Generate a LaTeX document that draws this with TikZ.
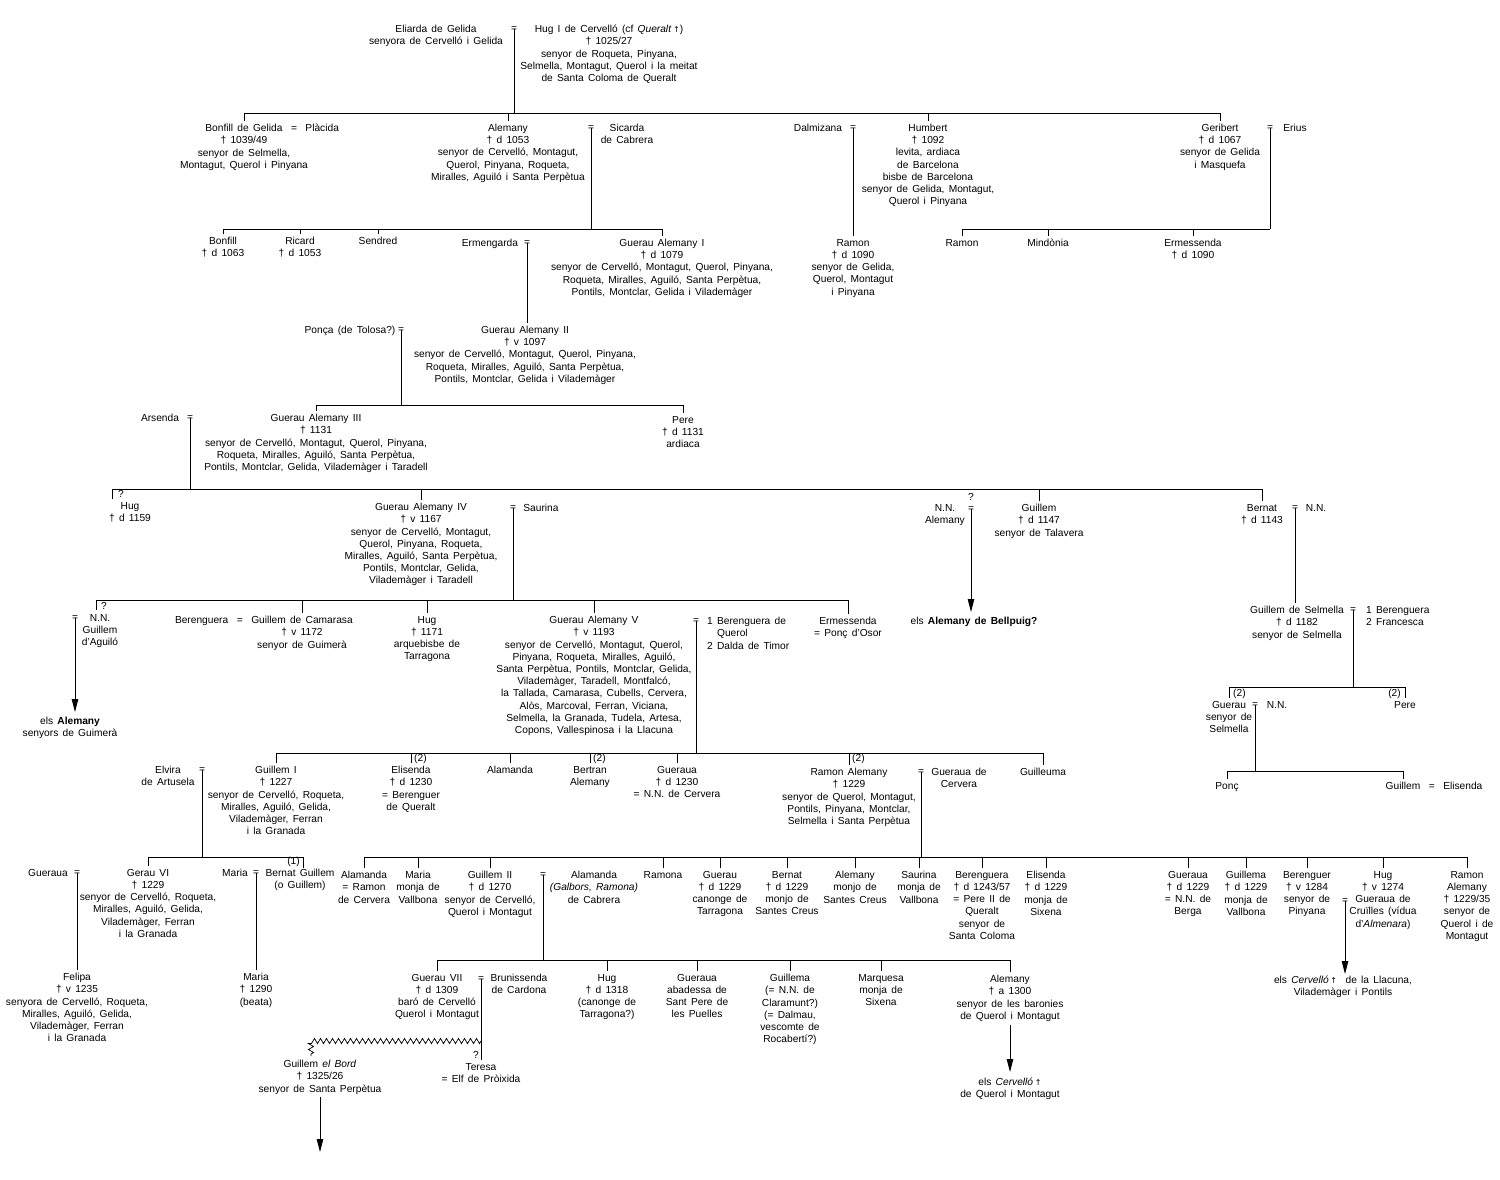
\documentclass[tikz,border=0pt]{standalone}
\usepackage{fontspec}
\setmainfont{Liberation Sans}[WordSpace=1.5]
\newfontfamily\symf{DejaVu Sans}
\usetikzlibrary{arrows.meta,decorations.pathmorphing}
\newcommand\fs{\fontsize{10.2}{12.2}\selectfont}
\newcommand\upar{{\symf\fontsize{8}{8}\selectfont ↑}}
\begin{document}
\begin{tikzpicture}[x=1pt,y=-1pt,
 per/.style={anchor=north,align=center,inner sep=0pt,yshift=4pt,font=\fs},
 perl/.style={anchor=north west,align=left,inner sep=0pt,yshift=4pt,font=\fs},
 eqn/.style={inner sep=0pt,font=\fs},
 qm/.style={inner sep=0pt,font=\fs},
 ln/.style={line width=0.9pt},
 tk/.style={line width=0.9pt,shorten >=3pt},
 arr/.style={line width=0.9pt,-{Triangle[length=13pt,width=6.5pt]}},
 zig/.style={line width=0.7pt,decorate,decoration={zigzag,segment length=6pt,amplitude=2.6pt}}]
\fill[white] (0,0) rectangle (1500,1179);
\useasboundingbox (0,0) rectangle (1500,1179);
% ---------- generation 1
\node[per] (eliarda) at (436,29) {Eliarda de Gelida\\senyora de Cervelló i Gelida};
\node[eqn] (m1) at (514,29) {=};
\node[per] (hug1) at (609,29) {Hug I de Cervelló (cf \textit{Queralt}\,\upar)\\† 1025/27\\senyor de Roqueta, Pinyana,\\Selmella, Montagut, Querol i la meitat\\de Santa Coloma de Queralt};
% ---------- generation 2
\coordinate (r1) at (0,113);
\node[per] (bonfillG) at (244,128) {Bonfill de Gelida\rlap{\ \ =\ \ Plàcida}\\† 1039/49\\senyor de Selmella,\\Montagut, Querol i Pinyana};
\node[per] (alemany) at (508,128) {Alemany\\† d 1053\\senyor de Cervelló, Montagut,\\Querol, Pinyana, Roqueta,\\Miralles, Aguiló i Santa Perpètua};
\node[eqn] (m2) at (591,128) {=};
\node[per] (sicarda) at (627,128) {Sicarda\\de Cabrera};
\node[per] (dalmizana) at (818,128) {Dalmizana};
\node[eqn] (m3) at (853,128) {=};
\node[per] (humbert) at (928,128) {Humbert\\† 1092\\levita, ardiaca\\de Barcelona\\bisbe de Barcelona\\senyor de Gelida, Montagut,\\Querol i Pinyana};
\node[per] (geribert) at (1220,128) {Geribert\\† d 1067\\senyor de Gelida\\i Masquefa};
\node[eqn] (m4) at (1270,128) {=};
\node[per] (erius) at (1295,128) {Erius};
\draw[ln] (bonfillG.north |- r1) -- (geribert.north |- r1);
\foreach \n in {bonfillG,alemany,humbert,geribert} \draw[tk] (\n.north |- r1) -- (\n.north);
\draw[ln] (m1.center) -- (m1.center |- r1);
% ---------- generation 3
\coordinate (r2) at (0,229);
\node[per] (bonfill) at (223,241) {Bonfill\\† d 1063};
\node[per] (ricard) at (300,241) {Ricard\\† d 1053};
\node[per] (sendred) at (378,241) {Sendred};
\node[per] (ermengarda) at (490,243) {Ermengarda};
\node[eqn] (m5) at (527,243) {=};
\node[per] (ga1) at (662,243) {Guerau Alemany I\\† d 1079\\senyor de Cervelló, Montagut, Querol, Pinyana,\\Roqueta, Miralles, Aguiló, Santa Perpètua,\\Pontils, Montclar, Gelida i Vilademàger};
\draw[ln] (bonfill.north |- r2) -- (ga1.north |- r2);
\foreach \n in {bonfill,ricard,sendred,ga1} \draw[tk] (\n.north |- r2) -- (\n.north);
\draw[ln] (m2.center) -- (m2.center |- r2);
\node[per] (ramon1) at (853,243) {Ramon\\† d 1090\\senyor de Gelida,\\Querol, Montagut\\i Pinyana};
\draw[tk] (m3.center) -- (m3.center |- ramon1.north);
\node[per] (ramon2) at (962,243) {Ramon};
\node[per] (mindonia) at (1048,243) {Mindònia};
\node[per] (ermessenda1) at (1193,243) {Ermessenda\\† d 1090};
\draw[ln] (ramon2.north |- r2) -- (m4.center |- r2);
\foreach \n in {ramon2,mindonia,ermessenda1} \draw[tk] (\n.north |- r2) -- (\n.north);
\draw[ln] (m4.center) -- (m4.center |- r2);
% ---------- generation 4
\node[per] (ponca) at (350,330) {Ponça (de Tolosa?)};
\node[eqn] (m6) at (401,330) {=};
\node[per] (ga2) at (525,330) {Guerau Alemany II\\† v 1097\\senyor de Cervelló, Montagut, Querol, Pinyana,\\Roqueta, Miralles, Aguiló, Santa Perpètua,\\Pontils, Montclar, Gelida i Vilademàger};
\draw[tk] (m5.center) -- (m5.center |- ga2.north);
% ---------- generation 5
\coordinate (r4) at (0,405);
\node[per] (arsenda) at (160,418) {Arsenda};
\node[eqn] (m7) at (190,418) {=};
\node[per] (ga3) at (316,418) {Guerau Alemany III\\† 1131\\senyor de Cervelló, Montagut, Querol, Pinyana,\\Roqueta, Miralles, Aguiló, Santa Perpètua,\\Pontils, Montclar, Gelida, Vilademàger i Taradell};
\node[per] (pere1) at (683,420) {Pere\\† d 1131\\ardiaca};
\draw[ln] (ga3.north |- r4) -- (pere1.north |- r4);
\foreach \n in {ga3,pere1} \draw[tk] (\n.north |- r4) -- (\n.north);
\draw[ln] (m6.center) -- (m6.center |- r4);
% ---------- generation 6
\coordinate (r5) at (0,489);
\coordinate (hugtick) at (112,499);
\node[qm] (q1) at (121,494) {?};
\node[per] (hug2) at (130,506) {Hug\\† d 1159};
\node[per] (ga4) at (421,507) {Guerau Alemany IV\\† v 1167\\senyor de Cervelló, Montagut,\\Querol, Pinyana, Roqueta,\\Miralles, Aguiló, Santa Perpètua,\\Pontils, Montclar, Gelida,\\Vilademàger i Taradell};
\node[eqn] (m8) at (513,508) {=};
\node[per] (saurina) at (541,508) {Saurina};
\node[per] (nnalemany) at (945,508) {N.N.\\Alemany};
\node[qm] (q2) at (971,497) {?};
\node[eqn] (m9) at (971,509) {=};
\node[per] (guillem1) at (1039,508) {Guillem\\† d 1147\\senyor de Talavera};
\node[per] (bernat1) at (1262,508) {Bernat\\† d 1143};
\node[eqn] (m10) at (1295,508) {=};
\node[per] (nn1) at (1316,508) {N.N.};
\draw[ln] (hugtick |- r5) -- (bernat1.north |- r5);
\draw[ln] (hugtick |- r5) -- (hugtick);
\foreach \n in {ga4,guillem1,bernat1} \draw[tk] (\n.north |- r5) -- (\n.north);
\draw[ln] (m7.center) -- (m7.center |- r5);
\coordinate (bellpuigtip) at (971,612);
\draw[arr] (m9.center) -- (bellpuigtip);
\node[per] (bellpuig) at (974,621) {els \textbf{Alemany de Bellpuig?}};
% ---------- generation 7
\coordinate (r6) at (0,600);
\coordinate (nntick) at (96,610);
\node[qm] (q3) at (104,606) {?};
\node[per] (nn2) at (100,618) {N.N.\\Guillem\\d'Aguiló};
\node[eqn] (m11) at (75,618) {=};
\coordinate (aguilotip) at (75,712);
\draw[arr] (m11.center) -- (aguilotip);
\node[per] (guimera) at (70,721) {els \textbf{Alemany}\\senyors de Guimerà};
\node[per] (camarasa) at (302,620) {\llap{Berenguera\ \ =\ \ }Guillem de Camarasa\\† v 1172\\senyor de Guimerà};
\node[per] (hug3) at (427,620) {Hug\\† 1171\\arquebisbe de\\Tarragona};
\node[per] (ga5) at (594,620) {Guerau Alemany V\\† v 1193\\senyor de Cervelló, Montagut, Querol,\\Pinyana, Roqueta, Miralles, Aguiló,\\Santa Perpètua, Pontils, Montclar, Gelida,\\Vilademàger, Taradell, Montfalcó,\\la Tallada, Camarasa, Cubells, Cervera,\\Alòs, Marcoval, Ferran, Viciana,\\Selmella, la Granada, Tudela, Artesa,\\Copons, Vallespinosa i la Llacuna};
\node[eqn] (m12) at (696,621) {=};
\node[perl] (beren1) at (707,621) {1 Berenguera de\\\phantom{1 }Querol\\2 Dalda de Timor};
\node[per] (ermessenda2) at (848,621) {Ermessenda\\= Ponç d'Osor};
\draw[ln] (nntick |- r6) -- (ermessenda2.north |- r6);
\draw[ln] (nntick |- r6) -- (nntick);
\foreach \n in {camarasa,hug3,ga5,ermessenda2} \draw[tk] (\n.north |- r6) -- (\n.north);
\draw[ln] (m8.center) -- (m8.center |- r6);
% Selmella branch
\node[per] (gselmella) at (1297,610) {Guillem de Selmella\\† d 1182\\senyor de Selmella};
\draw[tk] (m10.center) -- (m10.center |- gselmella.north);
\node[eqn] (m13) at (1353,610) {=};
\node[perl] (beren2) at (1366,610) {1 Berenguera\\2 Francesca};
\coordinate (r7) at (0,687);
\node[per] (guerau2) at (1229,705) {Guerau\\senyor de\\Selmella};
\node[eqn] (m14) at (1255,705) {=};
\node[per] (nn3) at (1277,705) {N.N.};
\node[per] (pere2) at (1405,705) {Pere};
\node[qm,anchor=west] (two4) at (1233,694) {(2)};
\node[qm,anchor=east] (two5) at (1401,694) {(2)};
\draw[ln] (guerau2.north |- r7) -- (pere2.north |- r7);
\foreach \n in {guerau2,pere2} \draw[tk] (\n.north |- r7) -- (\n.north);
\draw[ln] (m13.center) -- (m13.center |- r7);
\coordinate (r8) at (0,771);
\node[per] (ponc) at (1227,786) {Ponç};
\node[per] (guillem2) at (1403,786) {Guillem\rlap{\ \ =\ \ Elisenda}};
\draw[ln] (ponc.north |- r8) -- (guillem2.north |- r8);
\foreach \n in {ponc,guillem2} \draw[tk] (\n.north |- r8) -- (\n.north);
\draw[ln] (m14.center) -- (m14.center |- r8);
% ---------- generation 8
\coordinate (r9) at (0,753);
\node[per] (elvira) at (168,770) {Elvira\\de Artusela};
\node[eqn] (m15) at (202,770) {=};
\node[per] (guillemI) at (276,770) {Guillem I\\† 1227\\senyor de Cervelló, Roqueta,\\Miralles, Aguiló, Gelida,\\Vilademàger, Ferran\\i la Granada};
\node[per] (elisenda1) at (411,770) {Elisenda\\† d 1230\\= Berenguer\\de Queralt};
\node[per] (alamanda1) at (510,770) {Alamanda};
\node[per] (bertran) at (590,770) {Bertran\\Alemany};
\node[per] (gueraua1) at (677,770) {Gueraua\\† d 1230\\= N.N. de Cervera};
\node[per] (ramonA) at (849,772) {Ramon Alemany\\† 1229\\senyor de Querol, Montagut,\\Pontils, Pinyana, Montclar,\\Selmella i Santa Perpètua};
\node[eqn] (m16) at (921,772) {=};
\node[per] (guerauaC) at (959,772) {Gueraua de\\Cervera};
\node[per] (guilleuma) at (1043,772) {Guilleuma};
\node[qm,anchor=west] (two1) at (414,759) {(2)};
\node[qm,anchor=west] (two2) at (593,759) {(2)};
\node[qm,anchor=west] (two3) at (852,759) {(2)};
\draw[ln] (guillemI.north |- r9) -- (guilleuma.north |- r9);
\foreach \n in {guillemI,elisenda1,alamanda1,bertran,gueraua1,ramonA,guilleuma} \draw[tk] (\n.north |- r9) -- (\n.north);
\draw[ln] (m12.center) -- (m12.center |- r9);
% ---------- generation 9 (left)
\coordinate (r10) at (0,857);
\node[per] (gueraua2) at (48,873) {Gueraua};
\node[eqn] (m17) at (77,873) {=};
\node[per] (gerau6) at (148,873) {Gerau VI\\† 1229\\senyor de Cervelló, Roqueta,\\Miralles, Aguiló, Gelida,\\Vilademàger, Ferran\\i la Granada};
\node[per] (maria1) at (235,873) {Maria};
\node[eqn] (m18) at (256,873) {=};
\node[per] (bernatG) at (300,873) {Bernat Guillem\\(o Guillem)};
\coordinate (bgtick) at (303,868);
\node[qm,anchor=east] (one1) at (300,862) {(1)};
\draw[ln] (gerau6.north |- r10) -- (bgtick |- r10);
\draw[tk] (gerau6.north |- r10) -- (gerau6.north);
\draw[ln] (bgtick |- r10) -- (bgtick);
\draw[ln] (m15.center) -- (m15.center |- r10);
\node[per] (felipa) at (77,977) {Felipa\\† v 1235\\senyora de Cervelló, Roqueta,\\Miralles, Aguiló, Gelida,\\Vilademàger, Ferran\\i la Granada};
\draw[tk] (m17.center) -- (m17.center |- felipa.north);
\node[per] (maria2) at (256,977) {Maria\\† 1290\\(beata)};
\draw[tk] (m18.center) -- (m18.center |- maria2.north);
% ---------- generation 9 (right)
\coordinate (r11) at (0,857);
\node[per] (alamanda2) at (364,875) {Alamanda\\= Ramon\\de Cervera};
\node[per] (maria3) at (418,875) {Maria\\monja de\\Vallbona};
\node[per] (guillemII) at (490,875) {Guillem II\\† d 1270\\senyor de Cervelló,\\Querol i Montagut};
\node[eqn] (m19) at (543,875) {=};
\node[per] (alamanda3) at (594,875) {Alamanda\\\textit{(Galbors, Ramona)}\\de Cabrera};
\node[per] (ramona) at (663,875) {Ramona};
\node[per] (guerau3) at (720,875) {Guerau\\† d 1229\\canonge de\\Tarragona};
\node[per] (bernat2) at (787,875) {Bernat\\† d 1229\\monjo de\\Santes Creus};
\node[per] (alemany2) at (855,875) {Alemany\\monjo de\\Santes Creus};
\node[per] (saurina2) at (919,875) {Saurina\\monja de\\Vallbona};
\node[per] (berenguera3) at (982,875) {Berenguera\\† d 1243/57\\= Pere II de\\Queralt\\senyor de\\Santa Coloma};
\node[per] (elisenda2) at (1046,875) {Elisenda\\† d 1229\\monja de\\Sixena};
\node[per] (gueraua3) at (1188,875) {Gueraua\\† d 1229\\= N.N. de\\Berga};
\node[per] (guillema1) at (1246,875) {Guillema\\† d 1229\\monja de\\Vallbona};
\node[per] (berenguer) at (1307,875) {Berenguer\\† v 1284\\senyor de\\Pinyana};
\node[eqn] (m20) at (1345,901) {=};
\node[per] (hug4) at (1383,875) {Hug\\† v 1274\\Gueraua de\\Cruïlles (vídua\\d'\textit{Almenara})};
\node[per] (ramonA2) at (1467,875) {Ramon\\Alemany\\† 1229/35\\senyor de\\Querol i de\\Montagut};
\draw[ln] (alamanda2.north |- r11) -- (ramonA2.north |- r11);
\foreach \n in {alamanda2,maria3,guillemII,ramona,guerau3,bernat2,alemany2,saurina2,berenguera3,elisenda2,gueraua3,guillema1,berenguer,hug4,ramonA2} \draw[tk] (\n.north |- r11) -- (\n.north);
\draw[ln] (m16.center) -- (m16.center |- r11);
\coordinate (llacunatip) at (1345,974);
\draw[arr] (m20.center) -- (llacunatip);
\node[per] (llacuna) at (1343,980) {els \textit{Cervelló}\,\upar\ \ de la Llacuna,\\Vilademàger i Pontils};
% ---------- generation 10
\coordinate (r12) at (0,960);
\node[per] (ga7) at (437,978) {Guerau VII\\† d 1309\\baró de Cervelló\\Querol i Montagut};
\node[eqn] (m21) at (481,979) {=};
\node[per] (brunissenda) at (519,978) {Brunissenda\\de Cardona};
\node[per] (hug5) at (607,978) {Hug\\† d 1318\\(canonge de\\Tarragona?)};
\node[per] (gueraua4) at (697,978) {Gueraua\\abadessa de\\Sant Pere de\\les Puelles};
\node[per] (guillema2) at (790,978) {Guillema\\(= N.N. de\\Claramunt?)\\(= Dalmau,\\vescomte de\\Rocabertí?)};
\node[per] (marquesa) at (881,978) {Marquesa\\monja de\\Sixena};
\node[per] (alemany3) at (1010,979) {Alemany\\† a 1300\\senyor de les baronies\\de Querol i Montagut};
\draw[ln] (ga7.north |- r12) -- (alemany3.north |- r12);
\foreach \n in {ga7,hug5,gueraua4,guillema2,marquesa,alemany3} \draw[tk] (\n.north |- r12) -- (\n.north);
\draw[ln] (m19.center) -- (m19.center |- r12);
\coordinate (cervtip) at (1010,1072);
\draw[arr] ([yshift=-3pt]alemany3.south) -- (cervtip);
\node[per] (cervelloQ) at (1010,1082) {els \textit{Cervelló}\,\upar\\de Querol i Montagut};
% ---------- generation 11
\node[per] (teresa) at (481,1067) {Teresa\\= Elf de Pròixida};
\node[qm] (q4) at (476,1055) {?};
\draw[tk] (m21.center) -- (m21.center |- teresa.north);
\coordinate (zz1) at (481,1041);
\coordinate (zz2) at (311,1041);
\coordinate (zz3) at (311,1056);
\draw[zig] (zz1) -- (zz2) -- (zz3);
\node[per] (bord) at (320,1064) {Guillem \textit{el Bord}\\† 1325/26\\senyor de Santa Perpètua};
\coordinate (bordtip) at (320,1152);
\draw[arr] ([yshift=-3pt]bord.south) -- (bordtip);
\end{tikzpicture}
\end{document}
